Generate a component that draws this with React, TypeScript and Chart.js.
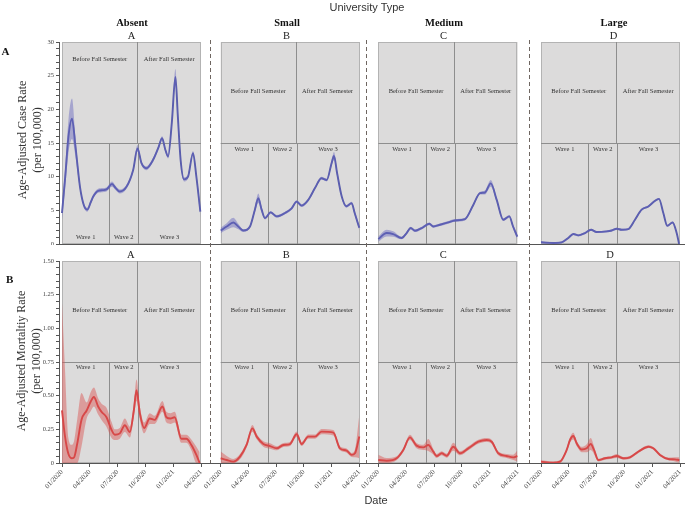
import React, { useEffect, useRef } from 'react';
import { Chart, registerables } from 'chart.js';

Chart.register(...registerables);

// ---------- data ----------
const universityTypes = ['Absent', 'Small', 'Medium', 'Large'];
const panelLetters = ['A', 'B', 'C', 'D'];
const rowLetters = ['A', 'B'];
const semesterLabels = ['Before Fall Semester', 'After Fall Semester'];
const waveLabels = ['Wave 1', 'Wave 2', 'Wave 3'];
const tickMonths = [0, 3, 6, 9, 12, 15];
const tickLabels = ['01/2020', '04/2020', '07/2020', '10/2020', '01/2021', '04/2021'];
const caseTicks = [0, 5, 10, 15, 20, 25, 30];
const mortalityTicks = [0, 0.25, 0.5, 0.75, 1.0, 1.25, 1.5];
const fallStartMonth = 8.13;
const waveBounds = [5.1, 8.22];

// months since 01/2020
const absentCaseMonths = [0, 0.35, 0.7, 1.08, 1.45, 1.94, 2.35, 2.73, 3.1, 3.37, 3.9, 4.4, 4.8, 5.4, 5.8, 6.24, 6.96, 7.68, 8.15, 8.58, 9.1, 9.83, 10.4, 10.8, 11.15, 11.45, 11.85, 12.24, 12.5, 12.8, 13.17, 13.6, 14.14, 14.5, 14.93];
const absentCaseRate = [4.6, 10.0, 16.0, 18.6, 14.5, 8.5, 5.8, 5.1, 6.2, 7.05, 7.9, 8.0, 8.1, 8.9, 8.3, 7.8, 8.5, 11.0, 14.2, 12.0, 11.25, 12.5, 14.3, 15.7, 14.0, 13.0, 18.0, 24.8, 19.0, 12.5, 9.6, 10.0, 13.5, 10.0, 4.8];
const absentCaseSpread = [1.0, 1.5, 2.5, 3.0, 1.5, 0.4, 0.3, 0.3, 0.3, 0.3, 0.3, 0.3, 0.3, 0.4, 0.3, 0.3, 0.3, 0.3, 0.5, 0.3, 0.3, 0.3, 0.3, 0.3, 0.3, 0.3, 0.6, 1.2, 0.8, 0.4, 0.3, 0.3, 0.3, 0.4, 0.8];

const smallCaseMonths = [0, 0.65, 1.37, 1.9, 2.45, 3.17, 3.7, 4.07, 4.43, 4.8, 5.4, 6.06, 6.96, 7.68, 8.22, 8.76, 9.48, 10.2, 10.9, 11.47, 12.0, 12.26, 12.6, 13.1, 13.6, 14.17, 14.5, 15];
const smallCaseRate = [2.0, 2.6, 3.2, 2.6, 2.0, 2.6, 5.1, 6.8, 5.1, 3.85, 4.7, 4.1, 4.6, 5.3, 6.3, 5.7, 6.56, 8.3, 9.77, 9.5, 12.0, 13.07, 10.5, 7.05, 5.6, 6.07, 4.6, 2.4];
const smallCaseSpread = [0.4, 0.5, 0.7, 0.4, 0.2, 0.2, 0.4, 0.7, 0.4, 0.2, 0.2, 0.2, 0.2, 0.2, 0.2, 0.2, 0.2, 0.2, 0.2, 0.2, 0.4, 0.6, 0.4, 0.2, 0.2, 0.2, 0.3, 0.4];

const mediumCaseMonths = [0, 0.9, 1.6, 2.5, 3.05, 3.49, 3.95, 4.67, 5.49, 5.92, 6.64, 7.53, 8.25, 9.33, 10.22, 10.94, 11.48, 12.1, 12.74, 13.45, 14.1, 14.5, 14.96];
const mediumCaseRate = [0.74, 1.63, 1.48, 0.89, 1.63, 2.37, 1.97, 2.37, 3.0, 2.6, 2.86, 3.2, 3.5, 3.7, 5.8, 7.55, 7.65, 9.0, 6.56, 3.6, 4.1, 2.6, 1.1];
const mediumCaseSpread = [0.4, 0.5, 0.4, 0.2, 0.2, 0.2, 0.2, 0.2, 0.2, 0.2, 0.2, 0.2, 0.2, 0.2, 0.2, 0.2, 0.3, 0.5, 0.3, 0.2, 0.2, 0.3, 0.4];

const largeCaseMonths = [0, 1.33, 2.23, 2.95, 3.49, 4.03, 4.75, 5.4, 6.0, 7.08, 7.63, 8.17, 8.7, 9.42, 10.14, 10.86, 11.58, 12.2, 12.73, 13.2, 13.63, 14.2, 14.64, 14.9];
const largeCaseRate = [0.25, 0.15, 0.25, 0.9, 1.48, 1.28, 1.63, 2.12, 1.78, 1.87, 2.0, 2.27, 2.12, 2.22, 3.6, 5.1, 5.57, 6.3, 6.7, 4.6, 2.7, 3.2, 1.63, 0];
const largeCaseSpread = [0.15, 0.15, 0.15, 0.15, 0.15, 0.15, 0.15, 0.15, 0.15, 0.15, 0.15, 0.15, 0.15, 0.15, 0.15, 0.15, 0.15, 0.15, 0.15, 0.15, 0.15, 0.15, 0.15, 0.15];

const absentMortMonths = [0, 0.32, 0.68, 1.04, 1.29, 1.65, 2.1, 2.66, 3.09, 3.44, 3.9, 4.27, 4.8, 5.35, 5.7, 6.24, 6.78, 7.32, 7.75, 8.04, 8.4, 8.86, 9.47, 10.0, 10.84, 11.27, 11.7, 12.16, 12.88, 13.42, 13.96, 14.5, 14.85];
const absentMortRate = [0.39, 0.2, 0.07, 0.035, 0.04, 0.146, 0.32, 0.39, 0.455, 0.49, 0.42, 0.38, 0.34, 0.245, 0.21, 0.22, 0.28, 0.23, 0.39, 0.54, 0.37, 0.26, 0.33, 0.32, 0.42, 0.34, 0.33, 0.34, 0.18, 0.18, 0.134, 0.06, 0.0];
const absentMortSpread = [0.8, 0.5, 0.12, 0.1, 0.12, 0.18, 0.2, 0.06, 0.07, 0.07, 0.06, 0.06, 0.07, 0.06, 0.04, 0.04, 0.05, 0.04, 0.05, 0.08, 0.05, 0.04, 0.04, 0.03, 0.04, 0.04, 0.04, 0.04, 0.03, 0.03, 0.04, 0.06, 0.08];

const smallMortMonths = [0, 0.65, 1.37, 2.09, 2.8, 3.43, 3.9, 4.62, 5.34, 6.06, 6.78, 7.5, 8.22, 8.76, 9.48, 10.2, 10.92, 12.19, 12.9, 13.63, 14.17, 14.53, 15];
const smallMortRate = [0.035, 0.022, 0.01, 0.047, 0.134, 0.257, 0.196, 0.141, 0.126, 0.109, 0.134, 0.141, 0.213, 0.141, 0.196, 0.196, 0.233, 0.225, 0.109, 0.092, 0.06, 0.072, 0.196];
const smallMortSpread = [0.05, 0.03, 0.02, 0.02, 0.02, 0.025, 0.02, 0.02, 0.02, 0.015, 0.015, 0.015, 0.02, 0.015, 0.015, 0.015, 0.02, 0.02, 0.015, 0.015, 0.015, 0.03, 0.16];

const mediumMortMonths = [0, 0.9, 1.97, 2.69, 3.4, 4.12, 4.84, 5.38, 5.92, 6.28, 6.82, 7.36, 8.07, 8.79, 9.69, 10.76, 11.66, 12.2, 12.91, 13.81, 14.53, 14.96];
const mediumMortRate = [0.022, 0.017, 0.035, 0.097, 0.19, 0.129, 0.116, 0.134, 0.084, 0.052, 0.072, 0.054, 0.121, 0.072, 0.109, 0.158, 0.171, 0.158, 0.072, 0.052, 0.042, 0.052];
const mediumMortSpread = [0.04, 0.02, 0.015, 0.015, 0.02, 0.02, 0.02, 0.045, 0.02, 0.015, 0.015, 0.015, 0.03, 0.015, 0.015, 0.015, 0.015, 0.015, 0.015, 0.015, 0.02, 0.04];

const largeMortMonths = [0, 1.33, 2.05, 2.77, 3.13, 3.49, 3.85, 4.39, 4.93, 5.36, 5.72, 6.19, 6.9, 7.63, 8.17, 8.88, 9.6, 10.68, 11.58, 12.12, 12.84, 13.74, 14.46, 14.93];
const largeMortRate = [0.01, 0.002, 0.01, 0.097, 0.171, 0.2, 0.146, 0.1, 0.109, 0.141, 0.097, 0.022, 0.035, 0.042, 0.052, 0.035, 0.042, 0.092, 0.121, 0.109, 0.06, 0.03, 0.027, 0.022];
const largeMortSpread = [0.01, 0.01, 0.01, 0.015, 0.02, 0.025, 0.02, 0.02, 0.03, 0.045, 0.03, 0.01, 0.01, 0.01, 0.015, 0.01, 0.01, 0.01, 0.01, 0.01, 0.01, 0.01, 0.015, 0.02];

type Series = { m: number[]; v: number[]; s: number[] };
const caseSeries: Series[] = [
  { m: absentCaseMonths, v: absentCaseRate, s: absentCaseSpread },
  { m: smallCaseMonths, v: smallCaseRate, s: smallCaseSpread },
  { m: mediumCaseMonths, v: mediumCaseRate, s: mediumCaseSpread },
  { m: largeCaseMonths, v: largeCaseRate, s: largeCaseSpread },
];
const mortalitySeries: Series[] = [
  { m: absentMortMonths, v: absentMortRate, s: absentMortSpread },
  { m: smallMortMonths, v: smallMortRate, s: smallMortSpread },
  { m: mediumMortMonths, v: mediumMortRate, s: mediumMortSpread },
  { m: largeMortMonths, v: largeMortRate, s: largeMortSpread },
];

// ---------- layout / style ----------
const PANEL_L = [59, 210, 366, 529];
const PANEL_R = [210, 366, 529, 685];
const BOX_L = [62, 220.7, 378.3, 541];
const BOX_R = [201, 359.3, 517.7, 680];
const ROW_TOP = [42, 261];
const ROW_BOTTOM = [244, 463];
const ROW_MAX = [30, 1.5];
const ROW_MID = [15, 0.75];
// label vertical positions (in data units) : [semester label, wave label]
const LABEL_POS = [
  [[27.47, 0.94], [22.7, 14.1], [22.7, 14.1], [22.7, 14.1]],
  [[1.134, 0.708], [1.134, 0.708], [1.134, 0.708], [1.134, 0.708]],
];
const LINE_COLORS = ['rgb(88,92,170)', 'rgb(214,66,68)'];
const BAND_COLORS = ['rgba(100,100,190,0.45)', 'rgba(218,80,78,0.45)'];
const GRAY_FILL = '#dcdbdb';
const BOX_EDGE = '#b3b3b3';
const DIVIDER = '#8e8e8e';
const AXIS_COLOR = '#555';
const SERIF = '"Liberation Serif", "Times New Roman", serif';
const SANS = '"Liberation Sans", Arial, sans-serif';

function geometry(row: number, col: number) {
  const canvasLeft = col === 0 ? 30 : PANEL_L[col] - 30;
  const padL = col === 0 ? 0 : 30;
  const yAxisW = col === 0 ? PANEL_L[0] - 30 : 0;
  const padR = col === 3 ? 0 : 4;
  const width = PANEL_R[col] + padR - canvasLeft;
  const padT = 6;
  const xAxisH = row === 0 ? 1 : 42;
  const canvasTop = ROW_TOP[row] - padT;
  const height = padT + (ROW_BOTTOM[row] - ROW_TOP[row]) + xAxisH;
  const k = (BOX_R[col] - BOX_L[col]) / 15;
  const xMin = -(BOX_L[col] - PANEL_L[col]) / k;
  const xMax = xMin + (PANEL_R[col] - PANEL_L[col]) / k;
  return { canvasLeft, padL, yAxisW, padR, width, padT, xAxisH, canvasTop, height, xMin, xMax };
}

function regionPlugin(row: number, col: number) {
  return {
    id: 'regions',
    beforeDatasetsDraw(chart: any) {
      const { ctx } = chart;
      const xs = chart.scales.x;
      const ys = chart.scales.y;
      const px = (m: number) => xs.getPixelForValue(m);
      const py = (v: number) => ys.getPixelForValue(v);
      const r = (v: number) => Math.round(v) + 0.5;
      const x0 = px(0), x1 = px(15);
      const yT = py(ROW_MAX[row]), yB = py(0), yM = py(ROW_MID[row]);
      const xf = px(fallStartMonth);
      ctx.save();
      ctx.fillStyle = GRAY_FILL;
      ctx.fillRect(x0, yT, x1 - x0, yB - yT);
      ctx.lineWidth = 1;
      ctx.strokeStyle = BOX_EDGE;
      ctx.strokeRect(r(x0), r(yT), Math.round(x1 - x0) - 1, Math.round(yB - yT) - 1);
      ctx.strokeStyle = DIVIDER;
      ctx.beginPath();
      ctx.moveTo(x0, r(yM));
      ctx.lineTo(x1, r(yM));
      ctx.moveTo(r(xf), yT);
      ctx.lineTo(r(xf), yM);
      waveBounds.forEach((w) => {
        ctx.moveTo(r(px(w)), yM);
        ctx.lineTo(r(px(w)), yB);
      });
      ctx.stroke();
      ctx.fillStyle = '#333';
      ctx.font = `6.5px ${SERIF}`;
      ctx.textAlign = 'center';
      ctx.textBaseline = 'middle';
      const [semY, waveY] = LABEL_POS[row][col];
      ctx.fillText(semesterLabels[0], (x0 + xf) / 2, py(semY));
      ctx.fillText(semesterLabels[1], (xf + x1) / 2, py(semY));
      const bounds = [0, ...waveBounds, 15];
      waveLabels.forEach((w, i) => {
        ctx.fillText(w, (px(bounds[i]) + px(bounds[i + 1])) / 2, py(waveY));
      });
      ctx.restore();
    },
  };
}

function Panel({ row, col }: { row: number; col: number }) {
  const ref = useRef<HTMLCanvasElement>(null);
  const g = geometry(row, col);
  useEffect(() => {
    const series = row === 0 ? caseSeries[col] : mortalitySeries[col];
    const majors = row === 0 ? caseTicks : mortalityTicks;
    const upper = series.m.map((m, i) => ({ x: m, y: series.v[i] + series.s[i] }));
    const lower = series.m.map((m, i) => ({ x: m, y: Math.max(0, series.v[i] - series.s[i]) }));
    const main = series.m.map((m, i) => ({ x: m, y: series.v[i] }));
    const common = { pointRadius: 0, cubicInterpolationMode: 'monotone' as const };
    const chart = new Chart(ref.current as HTMLCanvasElement, {
      type: 'line',
      data: {
        datasets: [
          { ...common, data: upper, fill: '+1', backgroundColor: BAND_COLORS[row], borderColor: 'rgba(0,0,0,0)', borderWidth: 0 },
          { ...common, data: lower, fill: false, borderColor: 'rgba(0,0,0,0)', borderWidth: 0 },
          { ...common, data: main, fill: false, borderColor: LINE_COLORS[row], borderWidth: 1.9 },
        ],
      },
      options: {
        animation: false,
        responsive: false,
        events: [],
        layout: { padding: { left: g.padL, right: g.padR, top: g.padT, bottom: 0 } },
        plugins: { legend: { display: false }, tooltip: { enabled: false } },
        scales: {
          x: {
            type: 'linear',
            min: g.xMin,
            max: g.xMax,
            afterBuildTicks: (scale: any) => {
              scale.ticks = tickMonths.map((v) => ({ value: v }));
            },
            afterFit: (scale: any) => {
              scale.height = g.xAxisH;
              scale.paddingLeft = 0;
              scale.paddingRight = 0;
              scale.paddingTop = 0;
              scale.paddingBottom = 0;
            },
            ticks: {
              display: row === 1,
              autoSkip: false,
              minRotation: 47,
              maxRotation: 47,
              padding: 1,
              color: '#444',
              font: { family: SERIF, size: 7 },
              callback: (_v: any, i: number) => tickLabels[i],
            },
            grid: {
              display: row === 1,
              drawOnChartArea: false,
              drawTicks: true,
              tickLength: 4,
              color: AXIS_COLOR,
            },
            border: { display: true, color: AXIS_COLOR, width: 1 },
          },
          y: {
            type: 'linear',
            display: col === 0,
            min: 0,
            max: ROW_MAX[row],
            afterFit: (scale: any) => {
              scale.width = g.yAxisW;
              scale.paddingTop = 0;
              scale.paddingBottom = 0;
              scale.paddingLeft = 0;
              scale.paddingRight = 0;
            },
            ticks: {
              autoSkip: false,
              stepSize: row === 0 ? 1 : 0.05,
              padding: 2,
              color: '#444',
              font: { family: SERIF, size: 6.5 },
              callback: (v: any) => {
                const val = Number(v);
                const hit = majors.find((t) => Math.abs(t - val) < 1e-6);
                if (hit === undefined) return '';
                if (row === 0 || hit === 0) return String(hit);
                return hit.toFixed(2);
              },
            },
            grid: { display: true, drawOnChartArea: false, drawTicks: true, tickLength: 3, color: AXIS_COLOR },
            border: { display: true, color: AXIS_COLOR, width: 1 },
          },
        },
      },
      plugins: [regionPlugin(row, col)],
    } as any);
    return () => chart.destroy();
  }, [row, col]);
  return (
    <canvas
      ref={ref}
      width={g.width}
      height={g.height}
      style={{ position: 'absolute', left: g.canvasLeft, top: g.canvasTop, width: g.width, height: g.height, display: 'block' }}
    />
  );
}

const TITLE_X = [132, 287, 444, 614];
const LETTER_X = [[131.5, 286.5, 443.5, 613.5], [130.7, 286.3, 443.3, 610]];
const LETTER_Y = [36, 255];
const YTITLE = [
  { lines: ['Age-Adjusted Case Rate', '(per 100,000)'], x: 29.5, y: 140 },
  { lines: ['Age-Adjusted Mortaltiy Rate', '(per 100,000)'], x: 28.5, y: 361 },
];
const DASH_X = [210, 366, 529];

const centered = (x: number, y: number): React.CSSProperties => ({
  position: 'absolute',
  left: x,
  top: y,
  transform: 'translate(-50%, -50%)',
  whiteSpace: 'nowrap',
  lineHeight: 1,
});

export default function App() {
  return (
    <div style={{ position: 'absolute', left: 0, top: 0, width: 685, height: 507, background: '#fff', overflow: 'hidden' }}>
      {[0, 1].map((row) => [0, 1, 2, 3].map((col) => <Panel key={`${row}-${col}`} row={row} col={col} />))}
      <svg width={685} height={507} style={{ position: 'absolute', left: 0, top: 0, pointerEvents: 'none' }}>
        {DASH_X.map((x) => (
          <line key={x} x1={x + 0.5} x2={x + 0.5} y1={40} y2={463} stroke="#6f6661" strokeWidth={1} strokeDasharray="4 3" />
        ))}
      </svg>
      <div style={{ ...centered(367, 7), fontFamily: SANS, fontSize: 11, color: '#333' }}>University Type</div>
      <div style={{ ...centered(376, 500), fontFamily: SANS, fontSize: 11, color: '#333' }}>Date</div>
      {universityTypes.map((t, i) => (
        <div key={t} style={{ ...centered(TITLE_X[i], 23), fontFamily: SERIF, fontSize: 10.5, fontWeight: 'bold', color: '#111' }}>{t}</div>
      ))}
      {[0, 1].map((row) =>
        panelLetters.map((l, i) => (
          <div key={`${row}${l}`} style={{ ...centered(LETTER_X[row][i], LETTER_Y[row]), fontFamily: SERIF, fontSize: 10.5, color: '#222' }}>{l}</div>
        ))
      )}
      <div style={{ ...centered(5.5, 51), fontFamily: SERIF, fontSize: 11, fontWeight: 'bold', color: '#111' }}>{rowLetters[0]}</div>
      <div style={{ ...centered(9.7, 279), fontFamily: SERIF, fontSize: 11, fontWeight: 'bold', color: '#111' }}>{rowLetters[1]}</div>
      {YTITLE.map((t, i) => (
        <div
          key={i}
          style={{
            position: 'absolute',
            left: t.x,
            top: t.y,
            transform: 'translate(-50%, -50%) rotate(-90deg)',
            whiteSpace: 'nowrap',
            textAlign: 'center',
            fontFamily: SERIF,
            fontSize: 12,
            lineHeight: '15px',
            color: '#333',
          }}
        >
          {t.lines.map((l) => (
            <div key={l}>{l}</div>
          ))}
        </div>
      ))}
    </div>
  );
}
